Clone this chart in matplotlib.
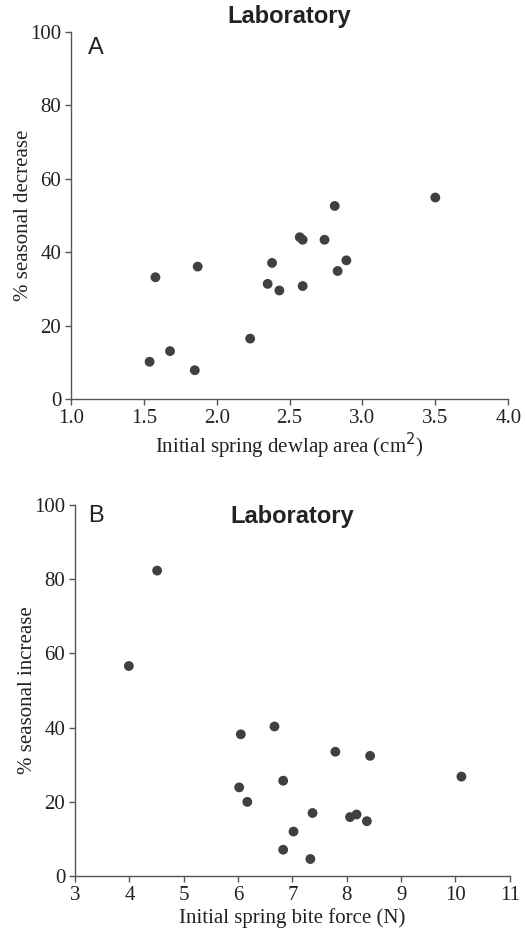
import matplotlib
matplotlib.use("Agg")
import matplotlib.pyplot as plt

# panel A: dewlap area vs % seasonal decrease
dewlap = [1.54, 1.58, 1.68, 1.85, 1.87, 2.23, 2.35, 2.38, 2.43, 2.57, 2.59, 2.59,
          2.74, 2.81, 2.83, 2.89, 3.50]
decrease = [10.2, 33.2, 13.1, 7.9, 36.1, 16.5, 31.4, 37.1, 29.6, 44.1, 43.4, 30.8,
            43.4, 52.6, 34.9, 37.8, 54.9]

# panel B: bite force vs % seasonal increase
bite = [3.99, 4.51, 6.02, 6.05, 6.17, 6.67, 6.83, 6.83, 7.02, 7.33, 7.37, 7.79,
        8.06, 8.18, 8.37, 8.43, 10.11]
increase = [56.6, 82.3, 23.9, 38.2, 20.0, 40.3, 25.7, 7.1, 12.0, 4.6, 17.0, 33.5,
            15.9, 16.6, 14.8, 32.4, 26.8]

serif = "Liberation Serif"
sans = "Liberation Sans"
dot = "#404040"
axc = "#555555"
txt = "#222222"
fs = 15

fig = plt.figure(figsize=(5.25, 9.35), dpi=100)
axA = fig.add_axes([0.135, 0.573, 0.833, 0.393])
axB = fig.add_axes([0.143, 0.063, 0.828, 0.397])


def style(ax):
    for s in ["top", "right"]:
        ax.spines[s].set_visible(False)
    for s in ["left", "bottom"]:
        ax.spines[s].set_color(axc)
        ax.spines[s].set_linewidth(1.0)
    ax.tick_params(direction="out", length=4, width=1.0, color=axc,
                   labelsize=fs, pad=3)
    for lab in ax.get_xticklabels() + ax.get_yticklabels():
        lab.set_fontfamily(serif)
        lab.set_color(txt)


axA.scatter(dewlap, decrease, s=50, color=dot, edgecolors="none", clip_on=False)
axA.set_xlim(1.0, 4.0)
axA.set_ylim(0, 100)
axA.set_xticks([1.0, 1.5, 2.0, 2.5, 3.0, 3.5, 4.0])
axA.set_xticklabels(["1.0", "1.5", "2.0", "2.5", "3.0", "3.5", "4.0"])
axA.set_yticks([0, 20, 40, 60, 80, 100])
style(axA)
axA.set_xlabel("Initial spring dewlap area (cm$^2$)", fontfamily=serif, fontsize=fs,
               color=txt, labelpad=2)
axA.set_ylabel("% seasonal decrease", fontfamily=serif, fontsize=fs,
               color=txt, labelpad=-2)
axA.text(0.5, 1.01, "Laboratory", transform=axA.transAxes, ha="center", va="bottom",
         fontfamily=sans, fontweight="bold", fontsize=17, color=txt)
axA.text(0.04, 0.985, "A", transform=axA.transAxes, ha="left", va="top",
         fontfamily=sans, fontsize=17, color=txt)

axB.scatter(bite, increase, s=50, color=dot, edgecolors="none", clip_on=False)
axB.set_xlim(3, 11)
axB.set_ylim(0, 100)
axB.set_xticks(range(3, 12))
axB.set_yticks([0, 20, 40, 60, 80, 100])
style(axB)
axB.set_xlabel("Initial spring bite force (N)", fontfamily=serif, fontsize=fs,
               color=txt, labelpad=2)
axB.set_ylabel("% seasonal increase", fontfamily=serif, fontsize=fs,
               color=txt, labelpad=-2)
axB.text(0.5, 1.0, "Laboratory", transform=axB.transAxes, ha="center", va="top",
         fontfamily=sans, fontweight="bold", fontsize=17, color=txt)
axB.text(0.03, 1.0, "B", transform=axB.transAxes, ha="left", va="top",
         fontfamily=sans, fontsize=17, color=txt)

fig.savefig("out.png", dpi=100)
